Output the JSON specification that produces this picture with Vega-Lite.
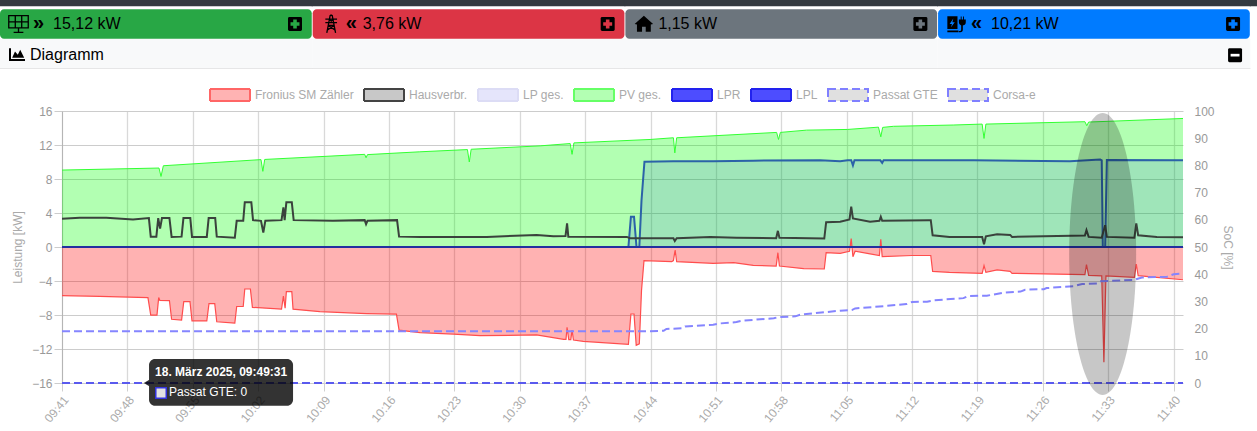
{
  "$schema": "https://vega.github.io/schema/vega-lite/v6.json",
  "width": 1121,
  "height": 272,
  "autosize": {"type": "none"},
  "padding": {"left": 62, "top": 111, "right": 74, "bottom": 48},
  "background": "white",
  "config": {"font": "Liberation Sans", "view": {"stroke": null}},
  "datasets": {
    "kopf": [
      {"tile": "pv", "row": "Kopf"}, {"tile": "netz", "row": "Kopf"}, {"tile": "haus", "row": "Kopf"}, {"tile": "lp", "row": "Kopf"}, {"tile": "rest", "row": "Kopf"}
    ],
    "leiste": [
      {"tile": "pv", "row": "Diagramm"}, {"tile": "netz", "row": "Diagramm"}, {"tile": "haus", "row": "Diagramm"}, {"tile": "lp", "row": "Diagramm"}
    ],
    "kacheln": [
      {"tile": "pv", "row": "Kacheln", "wert": "15,12 kW", "pfeil": "»"},
      {"tile": "netz", "row": "Kacheln", "wert": "3,76 kW", "pfeil": "«"},
      {"tile": "haus", "row": "Kacheln", "wert": "1,15 kW", "pfeil": ""},
      {"tile": "lp", "row": "Kacheln", "wert": "10,21 kW", "pfeil": "«"}
    ],
    "pv": [
      {"t":"09:41:00","v":9.05},{"t":"09:51:23","v":9.29},{"t":"09:51:36","v":8.3},{"t":"09:51:51","v":9.56},{"t":"10:02:18","v":10.28},{"t":"10:02:30","v":8.9},{"t":"10:02:42","v":10.3},{"t":"10:13:24","v":10.9},{"t":"10:13:33","v":10.5},{"t":"10:13:42","v":10.87},{"t":"10:19:18","v":11.2},{"t":"10:24:24","v":11.46},{"t":"10:24:36","v":10.0},{"t":"10:24:48","v":11.5},{"t":"10:32:12","v":11.9},{"t":"10:35:24","v":12.17},{"t":"10:35:36","v":10.9},{"t":"10:35:48","v":12.25},{"t":"10:43:57","v":12.65},{"t":"10:46:27","v":12.85},{"t":"10:46:36","v":11.07},{"t":"10:46:48","v":12.85},{"t":"10:57:30","v":13.48},{"t":"10:57:42","v":12.65},{"t":"10:57:54","v":13.48},{"t":"11:00:42","v":13.75},{"t":"11:05:06","v":13.83},{"t":"11:08:24","v":14.1},{"t":"11:08:39","v":12.96},{"t":"11:08:51","v":14.07},{"t":"11:10:00","v":14.2},{"t":"11:16:24","v":14.35},{"t":"11:19:30","v":14.46},{"t":"11:19:42","v":12.77},{"t":"11:19:54","v":14.46},{"t":"11:30:30","v":14.74},{"t":"11:30:42","v":14.27},{"t":"11:30:54","v":14.7},{"t":"11:41:00","v":15.12}
    ],
    "haus": [
      {"t":"09:41:00","v":3.32},{"t":"09:42:54","v":3.44},{"t":"09:45:45","v":3.44},{"t":"09:48:36","v":3.24},{"t":"09:50:18","v":3.4},{"t":"09:50:30","v":1.22},{"t":"09:51:06","v":1.22},{"t":"09:51:18","v":3.4},{"t":"09:51:30","v":2.17},{"t":"09:51:42","v":3.4},{"t":"09:52:30","v":3.4},{"t":"09:52:44","v":1.19},{"t":"09:53:48","v":1.22},{"t":"09:54:00","v":3.4},{"t":"09:54:44","v":3.4},{"t":"09:54:55","v":1.19},{"t":"09:56:30","v":1.19},{"t":"09:56:42","v":3.4},{"t":"09:57:24","v":3.4},{"t":"09:57:34","v":1.22},{"t":"09:59:30","v":1.1},{"t":"09:59:42","v":3.08},{"t":"10:00:24","v":3.08},{"t":"10:00:34","v":5.26},{"t":"10:01:16","v":5.26},{"t":"10:01:27","v":3.16},{"t":"10:02:18","v":3.08},{"t":"10:02:33","v":1.7},{"t":"10:02:46","v":3.08},{"t":"10:04:30","v":3.16},{"t":"10:04:42","v":4.66},{"t":"10:04:50","v":3.16},{"t":"10:05:01","v":5.26},{"t":"10:05:36","v":5.26},{"t":"10:05:48","v":3.16},{"t":"10:10:00","v":3.08},{"t":"10:13:24","v":3.16},{"t":"10:13:33","v":2.69},{"t":"10:13:42","v":3.08},{"t":"10:16:52","v":3.16},{"t":"10:17:05","v":1.22},{"t":"10:19:20","v":1.17},{"t":"10:26:28","v":1.19},{"t":"10:31:48","v":1.42},{"t":"10:33:36","v":1.26},{"t":"10:34:54","v":1.3},{"t":"10:35:04","v":2.77},{"t":"10:35:12","v":1.22},{"t":"10:41:28","v":1.19},{"t":"10:41:48","v":1.03},{"t":"10:46:27","v":1.03},{"t":"10:46:36","v":0.71},{"t":"10:46:48","v":1.03},{"t":"10:50:24","v":1.19},{"t":"10:53:12","v":1.1},{"t":"10:57:27","v":1.03},{"t":"10:57:38","v":1.9},{"t":"10:57:48","v":1.1},{"t":"11:02:36","v":1.0},{"t":"11:02:48","v":2.92},{"t":"11:04:18","v":2.98},{"t":"11:05:18","v":3.24},{"t":"11:05:29","v":4.74},{"t":"11:05:40","v":3.36},{"t":"11:07:30","v":2.96},{"t":"11:08:30","v":3.08},{"t":"11:08:39","v":3.56},{"t":"11:08:48","v":3.08},{"t":"11:13:46","v":3.16},{"t":"11:14:00","v":3.16},{"t":"11:14:12","v":1.38},{"t":"11:16:00","v":1.19},{"t":"11:19:30","v":1.19},{"t":"11:19:42","v":0.32},{"t":"11:19:54","v":1.26},{"t":"11:21:06","v":1.5},{"t":"11:22:30","v":1.42},{"t":"11:22:42","v":1.19},{"t":"11:30:30","v":1.34},{"t":"11:30:40","v":1.98},{"t":"11:30:54","v":1.19},{"t":"11:32:18","v":1.1},{"t":"11:32:40","v":2.57},{"t":"11:32:51","v":1.19},{"t":"11:35:48","v":1.1},{"t":"11:36:00","v":2.77},{"t":"11:36:12","v":1.38},{"t":"11:38:12","v":1.19},{"t":"11:41:00","v":1.15}
    ],
    "netz": [
      {"t":"09:41:00","v":-5.72},{"t":"09:45:02","v":-5.8},{"t":"09:50:12","v":-5.95},{"t":"09:50:30","v":-8.02},{"t":"09:51:10","v":-8.02},{"t":"09:51:21","v":-5.95},{"t":"09:51:28","v":-6.27},{"t":"09:52:30","v":-6.3},{"t":"09:52:44","v":-8.5},{"t":"09:53:48","v":-8.6},{"t":"09:54:02","v":-6.42},{"t":"09:54:42","v":-6.42},{"t":"09:54:55","v":-8.7},{"t":"09:56:30","v":-8.7},{"t":"09:56:44","v":-6.66},{"t":"09:57:21","v":-6.66},{"t":"09:57:34","v":-8.8},{"t":"09:59:30","v":-8.96},{"t":"09:59:42","v":-7.0},{"t":"10:00:24","v":-7.0},{"t":"10:00:34","v":-4.94},{"t":"10:01:10","v":-4.94},{"t":"10:01:23","v":-7.1},{"t":"10:04:30","v":-7.32},{"t":"10:04:42","v":-5.76},{"t":"10:04:53","v":-7.2},{"t":"10:05:01","v":-5.25},{"t":"10:05:36","v":-5.25},{"t":"10:05:44","v":-7.32},{"t":"10:08:36","v":-7.6},{"t":"10:13:36","v":-7.83},{"t":"10:16:48","v":-7.9},{"t":"10:17:05","v":-9.78},{"t":"10:19:20","v":-10.08},{"t":"10:22:54","v":-10.24},{"t":"10:25:45","v":-10.43},{"t":"10:31:48","v":-10.35},{"t":"10:34:42","v":-10.86},{"t":"10:34:57","v":-10.86},{"t":"10:35:04","v":-9.45},{"t":"10:35:15","v":-10.9},{"t":"10:35:28","v":-10.9},{"t":"10:35:36","v":-9.76},{"t":"10:35:45","v":-10.94},{"t":"10:36:48","v":-11.1},{"t":"10:41:38","v":-11.45},{"t":"10:41:54","v":-7.88},{"t":"10:42:14","v":-7.88},{"t":"10:42:28","v":-11.57},{"t":"10:42:48","v":-11.4},{"t":"10:43:02","v":-5.14},{"t":"10:43:18","v":-1.6},{"t":"10:46:16","v":-1.73},{"t":"10:46:27","v":-1.6},{"t":"10:46:38","v":-0.35},{"t":"10:46:48","v":-1.73},{"t":"10:50:42","v":-1.92},{"t":"10:52:54","v":-1.84},{"t":"10:55:00","v":-2.16},{"t":"10:57:27","v":-2.24},{"t":"10:57:38","v":-0.67},{"t":"10:57:48","v":-2.24},{"t":"11:00:24","v":-2.55},{"t":"11:02:36","v":-2.59},{"t":"11:02:48","v":-0.67},{"t":"11:04:18","v":-0.75},{"t":"11:05:18","v":-0.5},{"t":"11:05:29","v":1.0},{"t":"11:05:40","v":-1.14},{"t":"11:05:54","v":-0.5},{"t":"11:07:30","v":-0.8},{"t":"11:08:30","v":-1.0},{"t":"11:08:39","v":0.9},{"t":"11:08:48","v":-1.14},{"t":"11:12:00","v":-1.0},{"t":"11:14:00","v":-1.0},{"t":"11:14:12","v":-2.86},{"t":"11:16:00","v":-2.98},{"t":"11:19:30","v":-3.1},{"t":"11:19:42","v":-2.2},{"t":"11:19:54","v":-2.98},{"t":"11:21:06","v":-2.7},{"t":"11:22:30","v":-2.86},{"t":"11:22:42","v":-3.1},{"t":"11:30:30","v":-3.25},{"t":"11:30:40","v":-2.08},{"t":"11:30:54","v":-3.33},{"t":"11:32:18","v":-3.4},{"t":"11:32:32","v":-13.57},{"t":"11:32:45","v":-3.4},{"t":"11:35:48","v":-3.57},{"t":"11:36:00","v":-2.0},{"t":"11:36:12","v":-3.37},{"t":"11:38:12","v":-3.57},{"t":"11:41:00","v":-3.85}
    ],
    "lpr": [
      {"t":"09:41:00","v":0},{"t":"10:41:38","v":0},{"t":"10:41:54","v":3.56},{"t":"10:42:14","v":3.56},{"t":"10:42:30","v":0},{"t":"10:42:48","v":0},{"t":"10:43:02","v":5.45},{"t":"10:43:21","v":10.04},{"t":"10:46:27","v":10.08},{"t":"10:50:42","v":10.08},{"t":"10:55:00","v":10.16},{"t":"11:02:09","v":10.2},{"t":"11:04:18","v":10.1},{"t":"11:05:06","v":10.2},{"t":"11:05:29","v":10.2},{"t":"11:05:40","v":9.6},{"t":"11:05:50","v":10.2},{"t":"11:08:36","v":10.2},{"t":"11:08:48","v":9.9},{"t":"11:08:57","v":10.2},{"t":"11:18:36","v":10.2},{"t":"11:28:54","v":10.1},{"t":"11:32:08","v":10.3},{"t":"11:32:18","v":10.2},{"t":"11:32:25","v":0},{"t":"11:32:40","v":0},{"t":"11:32:51","v":10.24},{"t":"11:41:00","v":10.21}
    ],
    "lpl": [{"t":"09:41:00","v":0},{"t":"11:41:00","v":0}],
    "passat": [{"t":"09:41:00","v":0},{"t":"11:41:00","v":0}],
    "corsa": [
      {"t":"09:41:00","v":19},{"t":"10:43:36","v":19},{"t":"10:45:24","v":19.2},{"t":"10:45:42","v":19.85},{"t":"10:47:21","v":20.1},{"t":"10:47:42","v":20.8},{"t":"10:50:42","v":21.4},{"t":"10:51:27","v":21.9},{"t":"10:53:12","v":22.4},{"t":"10:53:48","v":22.9},{"t":"10:57:12","v":23.8},{"t":"10:57:42","v":24.25},{"t":"10:59:30","v":24.5},{"t":"11:00:00","v":25.1},{"t":"11:04:18","v":26.6},{"t":"11:05:33","v":26.8},{"t":"11:05:54","v":27.4},{"t":"11:09:06","v":28.3},{"t":"11:11:24","v":29},{"t":"11:12:00","v":29.8},{"t":"11:13:36","v":29.9},{"t":"11:14:18","v":30.4},{"t":"11:17:30","v":31.2},{"t":"11:18:00","v":32},{"t":"11:20:00","v":32.1},{"t":"11:21:48","v":33.2},{"t":"11:23:36","v":33.6},{"t":"11:24:06","v":34.3},{"t":"11:26:06","v":34.5},{"t":"11:26:24","v":34.9},{"t":"11:29:18","v":35.6},{"t":"11:30:12","v":36.4},{"t":"11:31:48","v":36.6},{"t":"11:32:08","v":37.4},{"t":"11:35:42","v":37.9},{"t":"11:36:36","v":38.8},{"t":"11:39:18","v":39.1},{"t":"11:40:00","v":40},{"t":"11:41:00","v":40.2}
    ]
  },
  "layer": [
    {
      "encoding": {
        "x": {"field": "tile", "type": "nominal", "axis": null, "sort": null, "scale": {"type": "band", "domain": ["pv", "netz", "haus", "lp", "rest"], "range": [-62, 1500.5], "paddingInner": 0.003, "paddingOuter": 0}},
        "y": {"field": "row", "type": "nominal", "axis": null, "sort": null, "scale": {"type": "band", "domain": ["Kopf", "Kacheln", "Diagramm"], "range": [-131.5, -42.5], "paddingInner": 0, "paddingOuter": 0}}
      },
      "layer": [
        {
          "data": {"name": "kopf"},
          "mark": {"type": "rect", "height": 22, "fill": "#343a40", "stroke": "#343a40", "strokeWidth": 2}
        },
        {
          "data": {"name": "leiste"},
          "mark": {"type": "rect", "fill": "#f8f9fa", "stroke": "#f8f9fa", "strokeWidth": 1}
        },
        {
          "data": {"name": "leiste"},
          "mark": {"type": "tick", "orient": "horizontal", "size": 313, "thickness": 1, "color": "#dedede"},
          "encoding": {"y": {"field": "row", "type": "nominal", "bandPosition": 1, "axis": null}}
        },
        {
          "data": {"name": "kacheln"},
          "mark": {"type": "rect", "cornerRadius": 4},
          "encoding": {
            "color": {"field": "tile", "type": "nominal", "legend": null, "scale": {"domain": ["pv", "netz", "haus", "lp"], "range": ["#28a745", "#dc3545", "#6c757d", "#007bff"]}}
          }
        },
        {
          "data": {"name": "kacheln"},
          "transform": [{"filter": "datum.tile === 'pv' || datum.tile === 'netz'"}],
          "mark": {"type": "point", "filled": false, "stroke": "black", "strokeWidth": 1.3, "opacity": 1, "xOffset": 18.5, "size": 380},
          "encoding": {
            "x": {"field": "tile", "type": "nominal", "bandPosition": 0, "axis": null},
            "shape": {"field": "tile", "type": "nominal", "legend": null, "scale": {"domain": ["pv", "netz", "haus", "lp"], "range": [
              "M-1,-.85H1V.4H-1Z M-1,-.22H1 M-.33,-.85V.4 M.33,-.85V.4 M0,.4V.85 M-.5,.85H.5",
              "M-.1,-.9L-.45,.9 M.1,-.9L.45,.9 M-.1,-.9H.1 M-.6,-.5H.6 M-.6,-.15H.6 M-.3,.15H.3 M-.25,-.5L.2,-.15 M.25,-.5L-.2,-.15 M-.3,.15L.38,.6 M.3,.15L-.38,.6",
              "M0,-.9L1,0L.75,.05V.85H.2V.3H-.2V.85H-.75V.05L-1,0Z",
              "M-1,-.85H.1V.55H-1Z M-.35,-.6L-.75,0H-.5L-.6,.35L-.2,-.2H-.45Z M-1,.7H.2V.9H-1Z M.25,-.5H.45V-.8H.55V-.5H.7V-.8H.8V-.5H1V-.2Q1,.1 .68,.15V.6Q.68,.9 .4,.9H.25V.75H.4Q.5,.75 .5,.6V.15Q.25,.1 .25,-.2Z"
            ]}}
          }
        },
        {
          "data": {"name": "kacheln"},
          "transform": [{"filter": "datum.tile === 'haus' || datum.tile === 'lp'"}],
          "mark": {"type": "point", "filled": true, "fill": "black", "opacity": 1, "xOffset": 18.5, "size": 340},
          "encoding": {
            "x": {"field": "tile", "type": "nominal", "bandPosition": 0, "axis": null},
            "shape": {"field": "tile", "type": "nominal", "legend": null}
          }
        },
        {
          "data": {"name": "kacheln"},
          "mark": {"type": "text", "align": "left", "baseline": "middle", "dx": 33, "dy": -1, "fontSize": 20, "fontWeight": "bold", "color": "black"},
          "encoding": {"x": {"field": "tile", "type": "nominal", "bandPosition": 0, "axis": null}, "text": {"field": "pfeil"}}
        },
        {
          "data": {"name": "kacheln"},
          "transform": [{"filter": "datum.tile === 'pv' || datum.tile === 'lp'"}],
          "mark": {"type": "text", "align": "left", "baseline": "middle", "dx": 53, "fontSize": 16, "color": "black"},
          "encoding": {"x": {"field": "tile", "type": "nominal", "bandPosition": 0, "axis": null}, "text": {"field": "wert"}}
        },
        {
          "data": {"name": "kacheln"},
          "transform": [{"filter": "datum.tile === 'netz'"}],
          "mark": {"type": "text", "align": "left", "baseline": "middle", "dx": 50, "fontSize": 16, "color": "black"},
          "encoding": {"x": {"field": "tile", "type": "nominal", "bandPosition": 0, "axis": null}, "text": {"field": "wert"}}
        },
        {
          "data": {"name": "kacheln"},
          "transform": [{"filter": "datum.tile === 'haus'"}],
          "mark": {"type": "text", "align": "left", "baseline": "middle", "dx": 33, "fontSize": 16, "color": "black"},
          "encoding": {"x": {"field": "tile", "type": "nominal", "bandPosition": 0, "axis": null}, "text": {"field": "wert"}}
        },
        {
          "data": {"name": "kacheln"},
          "mark": {"type": "point", "shape": "M-.8,-1H.8A.2,.2 0 0 1 1,-.8V.8A.2,.2 0 0 1 .8,1H-.8A.2,.2 0 0 1 -1,.8V-.8A.2,.2 0 0 1 -.8,-1Z", "filled": true, "fill": "black", "opacity": 1, "size": 196, "xOffset": 295},
          "encoding": {"x": {"field": "tile", "type": "nominal", "bandPosition": 0, "axis": null}}
        },
        {
          "data": {"name": "kacheln"},
          "mark": {"type": "point", "shape": "cross", "filled": true, "opacity": 1, "size": 80, "xOffset": 295},
          "encoding": {
            "x": {"field": "tile", "type": "nominal", "bandPosition": 0, "axis": null},
            "color": {"field": "tile", "type": "nominal", "legend": null}
          }
        },
        {
          "data": {"name": "leiste"},
          "transform": [{"filter": "datum.tile === 'lp'"}],
          "mark": {"type": "point", "shape": "M-.8,-1H.8A.2,.2 0 0 1 1,-.8V.8A.2,.2 0 0 1 .8,1H-.8A.2,.2 0 0 1 -1,.8V-.8A.2,.2 0 0 1 -.8,-1Z", "filled": true, "fill": "black", "opacity": 1, "size": 196, "xOffset": 297, "yOffset": 1.5},
          "encoding": {"x": {"field": "tile", "type": "nominal", "bandPosition": 0, "axis": null}}
        },
        {
          "data": {"name": "leiste"},
          "transform": [{"filter": "datum.tile === 'lp'"}],
          "mark": {"type": "point", "shape": "M-1,-.3H1V.3H-1Z", "filled": true, "fill": "white", "opacity": 1, "size": 80, "xOffset": 297, "yOffset": 1.5},
          "encoding": {"x": {"field": "tile", "type": "nominal", "bandPosition": 0, "axis": null}}
        },
        {
          "data": {"name": "leiste"},
          "transform": [{"filter": "datum.tile === 'pv'"}],
          "mark": {"type": "point", "shape": "M-1,-.8V.8H1V.55H-.75V-.8Z M-.6,.4L-.25,-.4L.1,0L.4,-.6L.9,.4Z", "filled": true, "fill": "black", "opacity": 1, "size": 256, "xOffset": 17, "yOffset": 1},
          "encoding": {"x": {"field": "tile", "type": "nominal", "bandPosition": 0, "axis": null}}
        },
        {
          "data": {"name": "leiste"},
          "transform": [{"filter": "datum.tile === 'pv'"}],
          "mark": {"type": "text", "align": "left", "baseline": "middle", "dx": 30, "dy": 1.5, "fontSize": 16, "color": "black"},
          "encoding": {"x": {"field": "tile", "type": "nominal", "bandPosition": 0, "axis": null}, "text": {"field": "row"}}
        }
      ]
    },
    {
      "encoding": {
        "x": {
          "field": "t",
          "type": "temporal",
          "scale": {"domain": [{"year": 1900, "month": 1, "date": 1, "hours": 9, "minutes": 41}, {"year": 1900, "month": 1, "date": 1, "hours": 11, "minutes": 41}]},
          "axis": {
            "title": null,
            "format": "%H:%M",
            "values": [
              {"year": 1900, "month": 1, "date": 1, "hours": 9, "minutes": 41}, {"year": 1900, "month": 1, "date": 1, "hours": 9, "minutes": 48}, {"year": 1900, "month": 1, "date": 1, "hours": 9, "minutes": 55},
              {"year": 1900, "month": 1, "date": 1, "hours": 10, "minutes": 2}, {"year": 1900, "month": 1, "date": 1, "hours": 10, "minutes": 9}, {"year": 1900, "month": 1, "date": 1, "hours": 10, "minutes": 16},
              {"year": 1900, "month": 1, "date": 1, "hours": 10, "minutes": 23}, {"year": 1900, "month": 1, "date": 1, "hours": 10, "minutes": 30}, {"year": 1900, "month": 1, "date": 1, "hours": 10, "minutes": 37},
              {"year": 1900, "month": 1, "date": 1, "hours": 10, "minutes": 44}, {"year": 1900, "month": 1, "date": 1, "hours": 10, "minutes": 51}, {"year": 1900, "month": 1, "date": 1, "hours": 10, "minutes": 58},
              {"year": 1900, "month": 1, "date": 1, "hours": 11, "minutes": 5}, {"year": 1900, "month": 1, "date": 1, "hours": 11, "minutes": 12}, {"year": 1900, "month": 1, "date": 1, "hours": 11, "minutes": 19},
              {"year": 1900, "month": 1, "date": 1, "hours": 11, "minutes": 26}, {"year": 1900, "month": 1, "date": 1, "hours": 11, "minutes": 33}, {"year": 1900, "month": 1, "date": 1, "hours": 11, "minutes": 40}
            ],
            "labelAngle": -50,
            "labelAlign": "right",
            "labelBaseline": "top",
            "labelColor": "#aaaaaa",
            "labelFontSize": 12,
            "labelPadding": 3,
            "labelOverlap": false,
            "labelFlush": false,
            "grid": true,
            "gridColor": "#d9d9d9",
            "gridWidth": 1.3,
            "tickColor": "#d0d0d0",
            "tickSize": 8,
            "domain": false
          }
        }
      },
      "layer": [
        {
          "encoding": {
            "y": {
              "field": "v",
              "type": "quantitative",
              "scale": {"domain": [-16, 16], "nice": false},
              "axis": {
                "title": "Leistung [kW]",
                "titleColor": "#aaaaaa",
                "titleFontSize": 12,
                "titleFontWeight": "normal",
                "titlePadding": 7,
                "values": [-16, -12, -8, -4, 0, 4, 8, 12, 16],
                "labelColor": "#999999",
                "labelFontSize": 12,
                "labelPadding": 2,
                "grid": true,
                "gridColor": "#cccccc",
                "tickColor": "#cccccc",
                "tickSize": 8,
                "domainColor": "#b5b5b5"
              }
            }
          },
          "layer": [
            {
              "data": {"name": "pv", "format": {"parse": {"t": "date:'%H:%M:%S'"}}},
              "layer": [
                {"mark": {"type": "area", "fill": "#00ff00", "fillOpacity": 0.3}},
                {"mark": {"type": "line", "color": "#33ff33", "strokeWidth": 1}}
              ]
            },
            {
              "data": {"name": "lpr", "format": {"parse": {"t": "date:'%H:%M:%S'"}}},
              "layer": [
                {"mark": {"type": "area", "fill": "#0000ff", "fillOpacity": 0.1}},
                {"mark": {"type": "line", "color": "#2b62a8", "strokeWidth": 2}}
              ]
            },
            {
              "data": {"name": "netz", "format": {"parse": {"t": "date:'%H:%M:%S'"}}},
              "layer": [
                {"mark": {"type": "area", "fill": "#ff0000", "fillOpacity": 0.3}},
                {"mark": {"type": "line", "color": "#ff4d4d", "strokeWidth": 1.2}}
              ]
            },
            {
              "data": {"name": "haus", "format": {"parse": {"t": "date:'%H:%M:%S'"}}},
              "mark": {"type": "line", "color": "#3a423c", "strokeWidth": 2}
            },
            {
              "data": {"name": "lpl", "format": {"parse": {"t": "date:'%H:%M:%S'"}}},
              "mark": {"type": "line", "color": "#22309f", "strokeWidth": 2}
            }
          ]
        },
        {
          "encoding": {
            "y": {
              "field": "v",
              "type": "quantitative",
              "scale": {"domain": [0, 100], "nice": false},
              "axis": {
                "orient": "right",
                "title": "SoC [%]",
                "titleColor": "#aaaaaa",
                "titleFontSize": 12,
                "titleFontWeight": "normal",
                "titlePadding": 6,
                "values": [0, 10, 20, 30, 40, 50, 60, 70, 80, 90, 100],
                "labelColor": "#999999",
                "labelFontSize": 12,
                "labelPadding": 11,
                "grid": false,
                "ticks": false,
                "domain": false
              }
            }
          },
          "layer": [
            {
              "data": {"name": "corsa", "format": {"parse": {"t": "date:'%H:%M:%S'"}}},
              "mark": {"type": "line", "color": "#8585ff", "strokeWidth": 2, "strokeDash": [8, 4]}
            },
            {
              "data": {"name": "passat", "format": {"parse": {"t": "date:'%H:%M:%S'"}}},
              "mark": {"type": "line", "color": "#5a5aee", "strokeWidth": 2, "strokeDash": [8, 4]}
            },
            {
              "data": {"values": []},
              "mark": {"type": "point", "filled": true, "opacity": 1},
              "encoding": {
                "fill": {
                  "field": "series",
                  "type": "nominal",
                  "scale": {
                    "domain": ["Fronius SM Zähler", "Hausverbr.", "LP ges.", "PV ges.", "LPR", "LPL", "Passat GTE", "Corsa-e"],
                    "range": ["#ffb3b3", "#c8c8c8", "#e5e5fb", "#b3ffb3", "#4d4dff", "#4d4dff", "#e0e0e0", "#e0e0e0"]
                  },
                  "legend": {
                    "orient": "none",
                    "legendX": 147,
                    "legendY": -37,
                    "direction": "horizontal",
                    "columns": 8,
                    "gridAlign": "none",
                    "title": null,
                    "symbolType": "M-1,-.3H1V.3H-1Z",
                    "symbolSize": 1600,
                    "symbolStrokeWidth": 2,
                    "symbolOpacity": 1,
                    "labelColor": "#aaaaaa",
                    "labelFontSize": 12,
                    "labelOffset": 4,
                    "columnPadding": 6
                  }
                },
                "stroke": {
                  "field": "series",
                  "type": "nominal",
                  "scale": {
                    "domain": ["Fronius SM Zähler", "Hausverbr.", "LP ges.", "PV ges.", "LPR", "LPL", "Passat GTE", "Corsa-e"],
                    "range": ["#ff6666", "#444444", "#dcdcf5", "#66ff66", "#2222ee", "#2222ee", "#8080ff", "#8080ff"]
                  }
                },
                "strokeDash": {
                  "field": "series",
                  "type": "nominal",
                  "scale": {
                    "domain": ["Fronius SM Zähler", "Hausverbr.", "LP ges.", "PV ges.", "LPR", "LPL", "Passat GTE", "Corsa-e"],
                    "range": [[1, 0], [1, 0], [1, 0], [1, 0], [1, 0], [1, 0], [8, 4], [8, 4]]
                  }
                }
              }
            }
          ]
        },
        {
          "encoding": {
            "y": {"field": "v", "type": "quantitative", "scale": {"domain": [-16, 16], "nice": false}, "axis": null}
          },
          "layer": [
            {
              "data": {"values": [{"t": "11:32:24", "v": -0.82}], "format": {"parse": {"t": "date:'%H:%M:%S'"}}},
              "mark": {"type": "point", "shape": "M0,-1A.2376,1 0 1 1 0,1A.2376,1 0 1 1 0,-1Z", "size": 79524, "filled": true, "fill": "black", "opacity": 0.22}
            },
            {
              "data": {"values": [{"t": "09:50:19", "t2": "10:05:44", "v": -13.18, "v2": -18.67}], "format": {"parse": {"t": "date:'%H:%M:%S'", "t2": "date:'%H:%M:%S'"}}},
              "mark": {"type": "rect", "fill": "black", "fillOpacity": 0.8, "cornerRadius": 6},
              "encoding": {"x2": {"field": "t2"}, "y2": {"field": "v2"}}
            },
            {
              "data": {"values": [{"t": "09:50:03", "v": -16}], "format": {"parse": {"t": "date:'%H:%M:%S'"}}},
              "mark": {"type": "point", "shape": "triangle-left", "size": 40, "filled": true, "fill": "black", "opacity": 0.8}
            },
            {
              "data": {"values": [{"t": "09:50:58", "v": -14.7, "text": "18. März 2025, 09:49:31"}], "format": {"parse": {"t": "date:'%H:%M:%S'"}}},
              "mark": {"type": "text", "align": "left", "baseline": "middle", "fontSize": 12, "fontWeight": "bold", "color": "white"},
              "encoding": {"text": {"field": "text"}}
            },
            {
              "data": {"values": [{"t": "09:51:36", "v": -17.18}], "format": {"parse": {"t": "date:'%H:%M:%S'"}}},
              "mark": {"type": "point", "shape": "square", "size": 110, "filled": true, "fill": "#e2e2e2", "stroke": "#3333dd", "strokeWidth": 1.5, "opacity": 1}
            },
            {
              "data": {"values": [{"t": "09:52:28", "v": -17.06, "text": "Passat GTE: 0"}], "format": {"parse": {"t": "date:'%H:%M:%S'"}}},
              "mark": {"type": "text", "align": "left", "baseline": "middle", "fontSize": 12, "color": "white"},
              "encoding": {"text": {"field": "text"}}
            }
          ]
        }
      ],
      "resolve": {"scale": {"y": "independent"}, "axis": {"y": "independent"}}
    }
  ],
  "resolve": {"scale": {"x": "independent", "y": "independent"}}
}
